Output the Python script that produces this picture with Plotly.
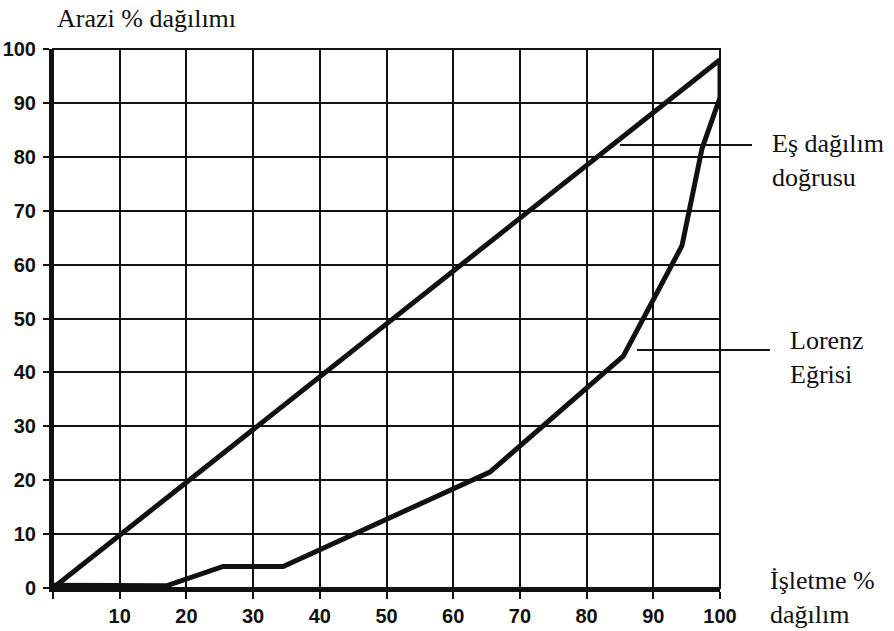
import plotly.graph_objects as go

# Data
equality_x = [0, 100]
equality_y = [0, 98]

lorenz_x = [0, 17, 25.5, 34.5, 65.5, 85.5, 94.3, 97.3, 100, 100]
lorenz_y = [0.5, 0.4, 4, 4, 21.5, 43, 63.5, 81.5, 91, 98]

x_ticks = [0, 10, 20, 30, 40, 50, 60, 70, 80, 90, 100]
x_tick_text = ["", "10", "20", "30", "40", "50", "60", "70", "80", "90", "100"]
y_ticks = [0, 10, 20, 30, 40, 50, 60, 70, 80, 90, 100]
y_tick_text = ["0", "10", "20", "30", "40", "50", "60", "70", "80", "90", "100"]

W, H = 894, 631
L, R, T, B = 53, 174, 49, 43
PW, PH = W - L - R, H - T - B

def px(x):
    return (x - L) / PW

def py(y):
    return (H - B - y) / PH

fig = go.Figure()
fig.add_trace(go.Scatter(x=equality_x, y=equality_y, mode="lines",
                         line=dict(color="#111", width=5), showlegend=False))
fig.add_trace(go.Scatter(x=lorenz_x, y=lorenz_y, mode="lines",
                         line=dict(color="#111", width=5), showlegend=False))

serif = "Liberation Serif, Times New Roman, serif"
sans = "Liberation Sans, Arial, sans-serif"

fig.update_layout(
    width=W, height=H,
    margin=dict(l=L, r=R, t=T, b=B, autoexpand=False),
    paper_bgcolor="white", plot_bgcolor="white",
    xaxis=dict(range=[0, 100], tickvals=x_ticks, ticktext=x_tick_text,
               showgrid=True, gridcolor="#111", gridwidth=2,
               showline=True, linecolor="#111", linewidth=4,
               ticks="outside", ticklen=7, tickwidth=2, tickcolor="#111",
               zeroline=False, ticklabelstandoff=0, automargin=False,
               tickfont=dict(family=sans, size=20, color="#111", weight="bold")),
    yaxis=dict(range=[0, 100], tickvals=y_ticks, ticktext=y_tick_text,
               showgrid=True, gridcolor="#111", gridwidth=2,
               showline=True, linecolor="#111", linewidth=4,
               ticks="outside", ticklen=6, tickwidth=2, tickcolor="#111",
               zeroline=False, ticklabelstandoff=3, automargin=False,
               tickfont=dict(family=sans, size=20, color="#111", weight="bold")),
)

# top/right frame
fig.add_shape(type="rect", xref="paper", yref="paper", x0=0, x1=1, y0=0, y1=1,
              line=dict(color="#111", width=2), layer="above")

# pointer lines
fig.add_shape(type="line", xref="paper", yref="paper",
              x0=px(620), x1=px(752), y0=py(145), y1=py(145),
              line=dict(color="#111", width=2))
fig.add_shape(type="line", xref="paper", yref="paper",
              x0=px(637), x1=px(770), y0=py(350), y1=py(350),
              line=dict(color="#111", width=2))

ann_font = dict(family=serif, size=26, color="#111")
fig.add_annotation(xref="paper", yref="paper", x=px(55), y=py(18),
                   xanchor="left", yanchor="middle", text="Arazi % dağılımı",
                   showarrow=False, font=ann_font, align="left")
fig.add_annotation(xref="paper", yref="paper", x=px(770), y=py(160),
                   xanchor="left", yanchor="middle", text="Eş dağılım<br>doğrusu",
                   showarrow=False, font=ann_font, align="left")
fig.add_annotation(xref="paper", yref="paper", x=px(788), y=py(357),
                   xanchor="left", yanchor="middle", text="Lorenz<br>Eğrisi",
                   showarrow=False, font=ann_font, align="left")
fig.add_annotation(xref="paper", yref="paper", x=px(768), y=py(597),
                   xanchor="left", yanchor="middle", text="İşletme %<br>dağılım",
                   showarrow=False, font=ann_font, align="left")

fig.write_html("out.html",
               config={"displayModeBar": False},
               post_script="document.body.style.margin='0';"
                           "document.body.style.overflow='hidden';")
